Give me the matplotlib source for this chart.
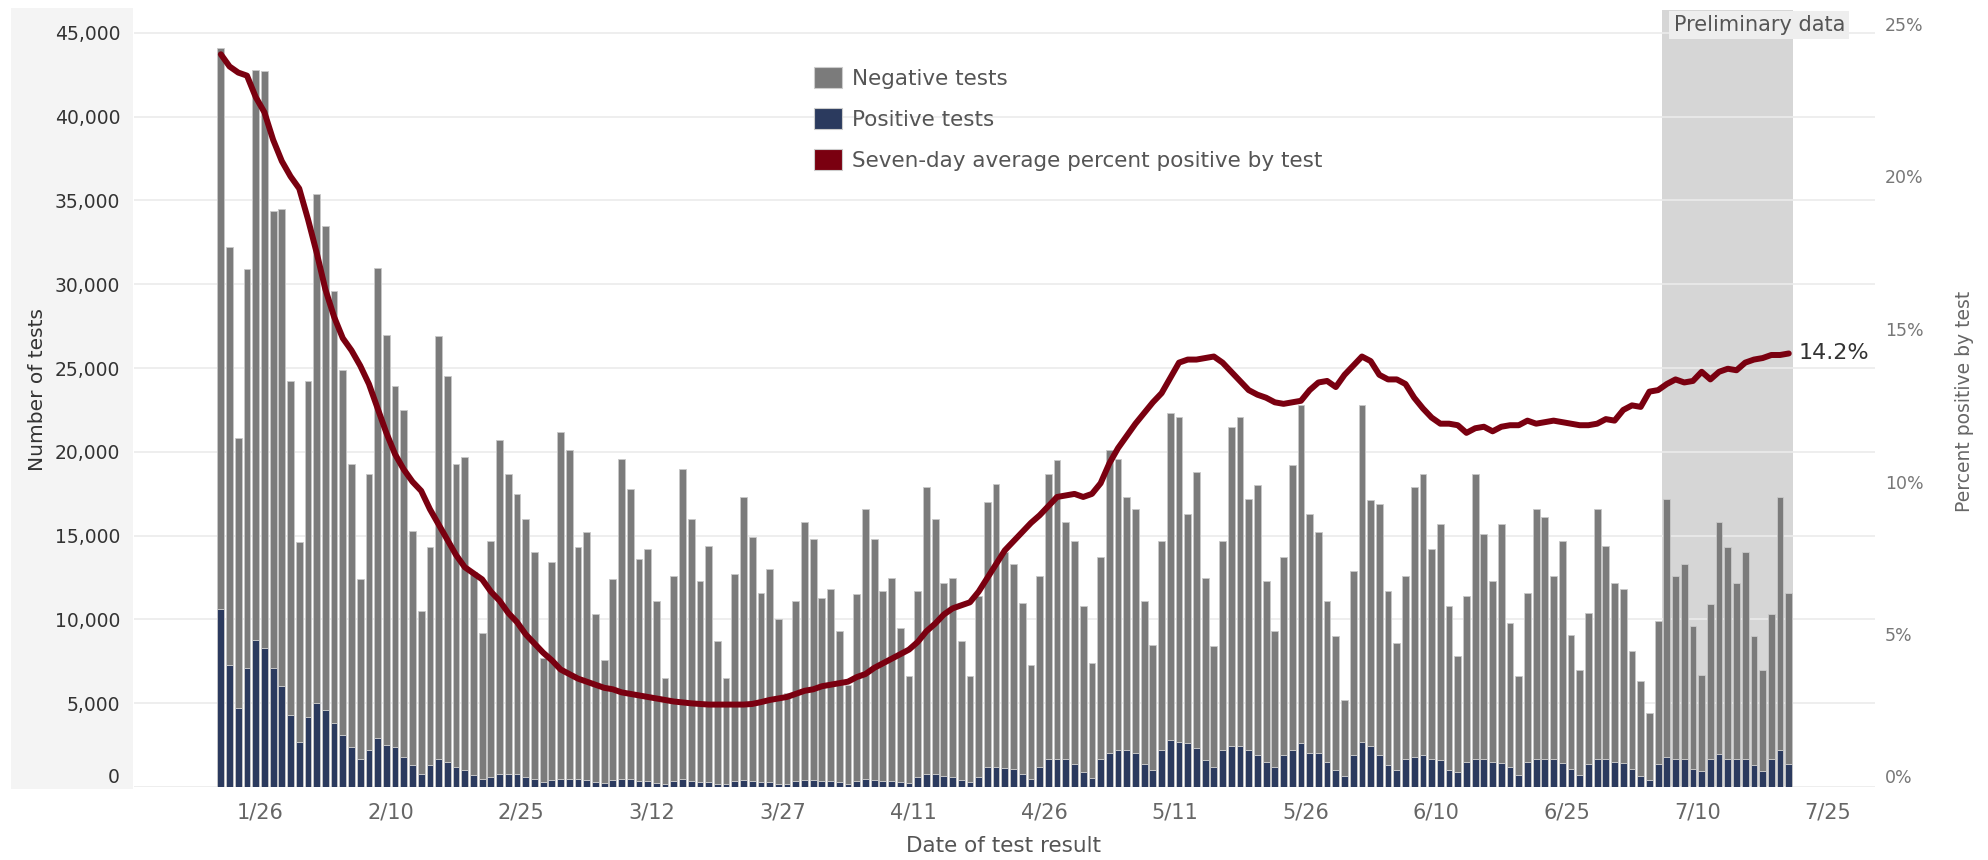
import numpy as np
import pandas as pd
import matplotlib
matplotlib.use('Agg')
import matplotlib.pyplot as plt
import matplotlib.dates as mdates
import matplotlib.transforms as mtransforms
from matplotlib.patches import Patch, Rectangle

# daily data, 1/21 - 7/20
dates = pd.date_range('2022-01-21', '2022-07-20', freq='D')

total_tests = [
    44100, 32200, 20800, 30900, 42800, 42700, 34400, 34500, 24200, 14600,
    24200, 35400, 33500, 29600, 24900, 19300, 12400, 18700, 31000, 27000,
    23900, 22500, 15300, 10500, 14300, 26900, 24500, 19300, 19700, 12800,
    9200, 14700, 20700, 18700, 17500, 16000, 14000, 7700, 13400, 21200,
    20100, 14300, 15200, 10300, 7600, 12400, 19600, 17800, 13600, 14200,
    11100, 6500, 12600, 19000, 16000, 12300, 14400, 8700, 6500, 12700,
    17300, 14900, 11600, 13000, 10000, 5600, 11100, 15800, 14800, 11300,
    11800, 9300, 6100, 11500, 16600, 14800, 11700, 12500, 9500, 6600,
    11700, 17900, 16000, 12200, 12500, 8700, 6600, 11400, 17000, 18100,
    14000, 13300, 11000, 7300, 12600, 18700, 19500, 15800, 14700, 10800,
    7400, 13700, 20100, 19600, 17300, 16600, 11100, 8500, 14700, 22300,
    22100, 16300, 18800, 12500, 8400, 14700, 21500, 22100, 17200, 18000,
    12300, 9300, 13700, 19200, 22800, 16300, 15200, 11100, 9000, 5200,
    12900, 22800, 17100, 16900, 11700, 8600, 12600, 17900, 18700, 14200,
    15700, 10800, 7800, 11400, 18700, 15100, 12300, 15700, 9800, 6600,
    11600, 16600, 16100, 12600, 14700, 9100, 7000, 10400, 16600, 14400,
    12200, 11800, 8100, 6300, 4400, 9900, 17200, 12600, 13300, 9600,
    6700, 10900, 15800, 14300, 12200, 14000, 9000, 7000, 10300, 17300,
    11600]

positive_tests = [
    10600, 7300, 4700, 7100, 8800, 8300, 7100, 6000, 4300, 2700,
    4200, 5000, 4600, 3800, 3100, 2400, 1700, 2200, 2900, 2500,
    2400, 1800, 1300, 800, 1300, 1700, 1500, 1200, 1000, 700,
    450, 600, 800, 800, 800, 600, 450, 300, 400, 500,
    500, 450, 400, 300, 250, 400, 500, 450, 350, 350,
    250, 200, 350, 450, 350, 300, 300, 200, 150, 350,
    400, 350, 300, 300, 200, 150, 350, 400, 400, 350,
    350, 300, 200, 350, 450, 400, 350, 350, 300, 250,
    600, 750, 750, 650, 600, 400, 300, 600, 1200, 1200,
    1150, 1100, 800, 500, 1200, 1700, 1700, 1700, 1400, 900,
    550, 1700, 2000, 2200, 2200, 2000, 1400, 1000, 2200, 2800,
    2700, 2600, 2350, 1600, 1200, 2200, 2450, 2450, 2200, 1900,
    1500, 1200, 1900, 2200, 2600, 2000, 2000, 1500, 1000, 650,
    1900, 2700, 2450, 1900, 1300, 1000, 1700, 1800, 1900, 1700,
    1600, 1000, 900, 1500, 1700, 1700, 1500, 1450, 1200, 700,
    1500, 1700, 1700, 1700, 1450, 1050, 700, 1400, 1700, 1650,
    1500, 1450, 1050, 650, 400, 1400, 1800, 1700, 1650, 1050,
    950, 1700, 1950, 1700, 1700, 1700, 1300, 950, 1700, 2200,
    1400]

pct_positive = [
    24.0, 23.6, 23.4, 23.3, 22.6, 22.1, 21.2, 20.5, 20.0, 19.6,
    18.6, 17.5, 16.3, 15.4, 14.7, 14.3, 13.8, 13.2, 12.4, 11.6,
    10.9, 10.4, 10.0, 9.7, 9.1, 8.6, 8.1, 7.6, 7.2, 7.0,
    6.8, 6.4, 6.1, 5.7, 5.4, 5.0, 4.7, 4.4, 4.15, 3.85,
    3.7, 3.55, 3.45, 3.35, 3.25, 3.2, 3.1, 3.05, 3.0, 2.95,
    2.9, 2.85, 2.8, 2.77, 2.74, 2.72, 2.7, 2.7, 2.7, 2.7,
    2.7, 2.72, 2.78, 2.85, 2.9, 2.95, 3.05, 3.15, 3.2, 3.3,
    3.35, 3.4, 3.45, 3.6, 3.7, 3.9, 4.05, 4.2, 4.35, 4.5,
    4.75, 5.1, 5.35, 5.65, 5.85, 5.95, 6.05, 6.4, 6.85, 7.3,
    7.75, 8.05, 8.35, 8.65, 8.9, 9.2, 9.5, 9.55, 9.6, 9.5,
    9.6, 9.95, 10.6, 11.1, 11.5, 11.9, 12.25, 12.6, 12.9, 13.4,
    13.9, 14.0, 14.0, 14.05, 14.1, 13.9, 13.6, 13.3, 13.0, 12.85,
    12.75, 12.6, 12.55, 12.6, 12.65, 13.0, 13.25, 13.3, 13.1, 13.5,
    13.8, 14.1, 13.95, 13.5, 13.35, 13.35, 13.2, 12.75, 12.4, 12.1,
    11.9, 11.9, 11.85, 11.6, 11.75, 11.8, 11.65, 11.8, 11.85, 11.85,
    12.0, 11.9, 11.95, 12.0, 11.95, 11.9, 11.85, 11.85, 11.9, 12.05,
    12.0, 12.35, 12.5, 12.45, 12.95, 13.0, 13.2, 13.35, 13.25, 13.3,
    13.6, 13.35, 13.6, 13.7, 13.65, 13.9, 14.0, 14.05, 14.15, 14.15,
    14.2]

prelim_start = pd.Timestamp('2022-07-06')
tick_dates = pd.date_range('2022-01-26', '2022-07-25', freq='15D')
left_ticks = list(range(0, 45001, 5000))
right_ticks = [0, 5, 10, 15, 20, 25]

neg_color = '#7b7b7b'
pos_color = '#2b3a5e'
line_color = '#7a0010'

W, H = 1988, 860
positive = np.array(positive_tests)
negative = np.array(total_tests) - positive
x = mdates.date2num(dates) + 0.5

fig = plt.figure(figsize=(W / 100, H / 100), dpi=100)
# shaded pane behind the left axis labels
fig.add_artist(Rectangle((11 / W, 1 - 789 / H), (133 - 11) / W, (789 - 8) / H,
                         transform=fig.transFigure, facecolor='#f4f4f4',
                         edgecolor='none', zorder=-1))

ax = fig.add_axes([134 / W, 1 - 787 / H, (1875 - 134) / W, 777 / H])
ax.axvspan(mdates.date2num(prelim_start), x[-1] + 0.5, color='#d6d6d6', lw=0, zorder=0)
ax.bar(x, positive, width=0.78, color=pos_color, edgecolor='#c9c9c9', linewidth=0.6, zorder=2)
ax.bar(x, negative, bottom=positive, width=0.78, color=neg_color, edgecolor='#c9c9c9',
       linewidth=0.6, zorder=2)

ax.set_axisbelow(True)
ax.grid(axis='y', color='#ebebeb', lw=1.2)
ax.set_xlim(mdates.date2num(pd.Timestamp('2022-01-11')) + 0.53,
            mdates.date2num(pd.Timestamp('2022-07-30')) + 0.4)
ax.set_ylim(0, 46366)
ax.set_yticks(left_ticks, ['{:,}'.format(v) for v in left_ticks])
ax.set_xticks(mdates.date2num(tick_dates), ['%d/%d' % (d.month, d.day) for d in tick_dates])
ax.tick_params(axis='y', length=0, pad=10, labelsize=13.5, labelcolor='#333333')
ax.tick_params(axis='x', length=0, pad=11, labelsize=15, labelcolor='#666666')
for s in ax.spines.values():
    s.set_visible(False)

ax2 = ax.twinx()
ax2.plot(x, pct_positive, color=line_color, lw=4.3, solid_capstyle='round',
         solid_joinstyle='round', zorder=3)
ax2.set_ylim(0, 25.45)
ax2.set_yticks(right_ticks, ['%d%%' % v for v in right_ticks])
ax2.tick_params(axis='y', length=0, pad=7, labelsize=12.5, labelcolor='#777777')
for s in ax2.spines.values():
    s.set_visible(False)
ax.get_yticklabels()[0].set_va('bottom')
ax2.get_yticklabels()[0].set_va('bottom')

ax2.annotate('%.1f%%' % pct_positive[-1], xy=(x[-1], pct_positive[-1]), xytext=(7, 0),
             textcoords='offset points', ha='left', va='center', fontsize=16, color='#333333')

trans = mtransforms.blended_transform_factory(ax.transData, ax.transAxes)
ax.annotate('Preliminary data', xy=(mdates.date2num(prelim_start), 0.981), xycoords=trans,
            xytext=(8, 0), textcoords='offset points', ha='left', va='center',
            fontsize=15, color='#555555',
            bbox=dict(facecolor='#eeeeee', edgecolor='none', boxstyle='square,pad=0.2'))

fig.text(38 / W, 1 - 390 / H, 'Number of tests', rotation=90, ha='center', va='center',
         fontsize=14.5, color='#333333')
fig.text(1964 / W, 1 - 401 / H, 'Percent positive by test', rotation=90, ha='center',
         va='center', fontsize=13.5, color='#666666')
fig.text(1004 / W, 1 - 846 / H, 'Date of test result', ha='center', va='center',
         fontsize=15.5, color='#555555')

handles = [Patch(facecolor=neg_color, edgecolor='#cccccc', lw=0.8),
           Patch(facecolor=pos_color, edgecolor='#cccccc', lw=0.8),
           Patch(facecolor=line_color, edgecolor='#cccccc', lw=0.8)]
labels = ['Negative tests', 'Positive tests', 'Seven-day average percent positive by test']
fig.legend(handles, labels, loc='upper left', bbox_to_anchor=(814 / W, 1 - 67 / H),
           frameon=False, fontsize=15.5, handlelength=1.3, handleheight=1.1,
           handletextpad=0.45, labelspacing=0.9, borderpad=0, borderaxespad=0,
           labelcolor='#555555')

fig.savefig('out.png', dpi=100)
